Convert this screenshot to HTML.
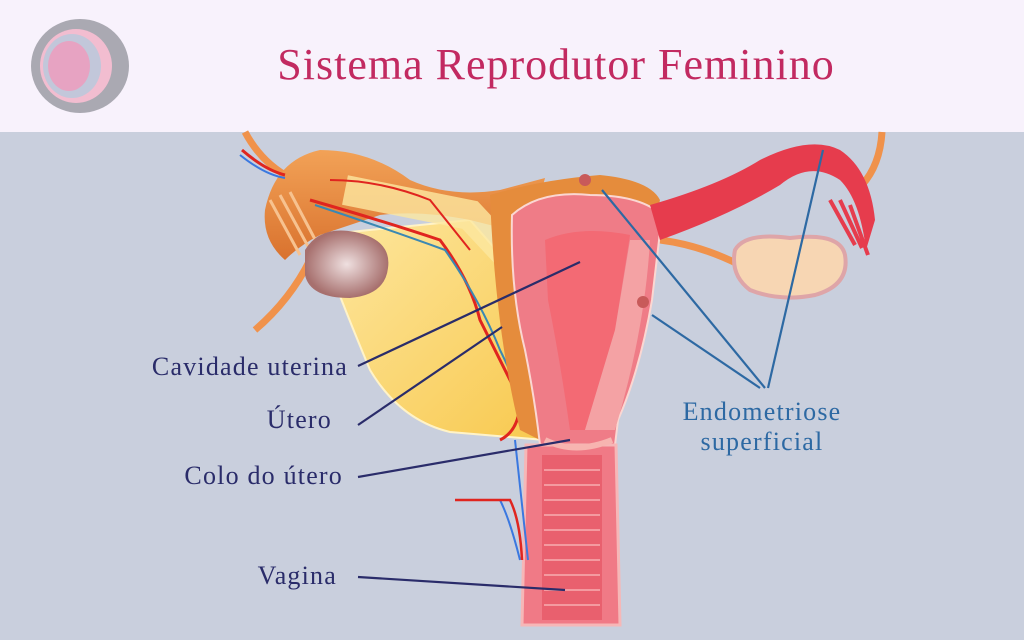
<!DOCTYPE html>
<html><head><meta charset="utf-8"><style>
html,body{margin:0;padding:0;width:1024px;height:640px;overflow:hidden;background:#c9cfdd}
</style></head><body>
<svg width="1024" height="640" viewBox="0 0 1024 640" xmlns="http://www.w3.org/2000/svg" font-family="'Liberation Serif', serif">
<defs>
<linearGradient id="yel" x1="0" y1="0" x2="1" y2="1"><stop offset="0" stop-color="#fde7a0"/><stop offset="1" stop-color="#f8c94f"/></linearGradient>
<linearGradient id="org" x1="0" y1="0" x2="0" y2="1"><stop offset="0" stop-color="#f2a257"/><stop offset="1" stop-color="#d9722e"/></linearGradient>
<radialGradient id="ov" cx="0.5" cy="0.5" r="0.5"><stop offset="0" stop-color="#efe0e0"/><stop offset="1" stop-color="#a7706e"/></radialGradient>
</defs>
<rect x="0" y="0" width="1024" height="132" fill="#f8f2fc"/>
<ellipse cx="80" cy="66" rx="49" ry="47" fill="#aaa9b2"/>
<ellipse cx="76" cy="66" rx="36" ry="37" fill="#f2bdd0"/>
<ellipse cx="72" cy="66" rx="29" ry="32" fill="#c2c7da"/>
<ellipse cx="69" cy="66" rx="21" ry="25" fill="#e7a3c2"/>
<text x="556" y="79" text-anchor="middle" font-size="44" letter-spacing="1" fill="#c22a61">Sistema Reprodutor Feminino</text>

<path d="M255 330 Q290 300 310 260" stroke="#f0924b" stroke-width="7" fill="none"/>
<path d="M245 132 Q260 160 285 175" stroke="#f0924b" stroke-width="7" fill="none"/>
<path d="M660 240 Q700 245 740 265" stroke="#f0924b" stroke-width="7" fill="none"/>
<path d="M882 132 Q880 165 862 185" stroke="#f0924b" stroke-width="7" fill="none"/>
<path d="M320 235 L470 220 L540 300 L545 440 L450 432 Q400 420 370 370 Q345 310 330 270 Z" fill="url(#yel)" stroke="#fff3c8" stroke-width="2"/>
<path d="M265 210 Q275 160 320 150 Q370 150 410 180 Q450 198 500 190 L545 178 L530 235 L470 220 Q420 210 380 215 L320 235 Q300 245 285 260 Q262 240 265 210 Z" fill="url(#org)"/>
<path d="M270 200 L300 255 M280 195 L310 250 M290 192 L318 245" stroke="#f7c28f" stroke-width="3"/>
<path d="M345 190 L470 215 L540 290" stroke="#fde7a0" stroke-width="30" fill="none" opacity="0.8"/>
<path d="M310 200 Q380 220 440 240 Q470 280 480 320 Q500 360 520 400 Q520 430 500 440" stroke="#e0251f" stroke-width="3" fill="none"/>
<path d="M315 205 Q390 230 445 250 Q480 300 500 350 Q520 390 530 430" stroke="#3b88b3" stroke-width="2" fill="none"/>
<path d="M330 180 Q380 180 430 200 L470 250" stroke="#e0251f" stroke-width="2" fill="none"/>
<path d="M490 195 Q540 180 600 175 Q650 180 660 200 L650 240 L540 250 L540 440 L520 430 Q495 330 490 195 Z" fill="#e58c3c"/>
<path d="M512 215 Q540 190 590 195 Q640 195 662 215 L652 300 Q640 370 618 420 L615 445 L540 445 Q535 400 525 350 Q510 290 512 215 Z" fill="#ef7c87" stroke="#fbd7d2" stroke-width="2"/>
<path d="M545 240 Q580 225 630 235 L615 330 Q600 380 585 430 L570 430 Q560 360 548 300 Z" fill="#f36a74"/>
<path d="M585 430 Q600 380 615 330 L630 240 L650 240 Q645 330 615 430 Z" fill="#f4a2a4"/>
<path d="M650 205 Q720 185 760 160 Q810 135 840 150 Q870 170 875 220 L866 250 Q860 200 840 180 Q810 160 780 185 Q730 215 660 240 Z" fill="#e63c4d"/>
<path d="M830 200 L855 245 M840 200 L862 248 M850 205 L868 255" stroke="#e63c4d" stroke-width="4"/>
<path d="M735 250 Q745 232 790 238 Q840 232 845 255 Q850 285 815 295 Q780 302 750 290 Q730 275 735 250 Z" fill="#f7d6b3" stroke="#dea5a8" stroke-width="4"/>
<path d="M305 250 Q320 225 355 232 Q392 240 388 268 Q385 295 350 298 Q310 298 305 275 Z" fill="url(#ov)"/>
<path d="M526 445 L616 445 L620 625 L522 625 Z" fill="#f07a86" stroke="#f6b7b7" stroke-width="3"/>
<rect x="542" y="455" width="60" height="165" fill="#e9606e"/>
<g stroke="#f49aa0" stroke-width="2">
<line x1="544" y1="470" x2="600" y2="470"/><line x1="544" y1="485" x2="600" y2="485"/><line x1="544" y1="500" x2="600" y2="500"/><line x1="544" y1="515" x2="600" y2="515"/><line x1="544" y1="530" x2="600" y2="530"/><line x1="544" y1="545" x2="600" y2="545"/><line x1="544" y1="560" x2="600" y2="560"/><line x1="544" y1="575" x2="600" y2="575"/><line x1="544" y1="590" x2="600" y2="590"/><line x1="544" y1="605" x2="600" y2="605"/>
</g>
<path d="M545 440 Q575 455 612 440" stroke="#f7b4b0" stroke-width="6" fill="none"/>
<path d="M515 440 L528 560 M500 500 Q510 520 520 560" stroke="#3a78e0" stroke-width="2" fill="none"/>
<path d="M455 500 Q490 500 510 500 Q520 520 522 560" stroke="#e0251f" stroke-width="2.5" fill="none"/>
<path d="M242 150 Q265 170 285 175" stroke="#e0251f" stroke-width="3" fill="none"/>
<path d="M240 155 Q265 175 285 178" stroke="#3a78e0" stroke-width="2" fill="none"/>
<circle cx="585" cy="180" r="6" fill="#c85a5a"/>
<circle cx="643" cy="302" r="6" fill="#c85a5a"/>

<g stroke="#2a2c6a" stroke-width="2.2">
<line x1="358" y1="366" x2="580" y2="262"/>
<line x1="358" y1="425" x2="502" y2="327"/>
<line x1="358" y1="477" x2="570" y2="440"/>
<line x1="358" y1="577" x2="565" y2="590"/>
</g>
<g stroke="#2d69a3" stroke-width="2.2">
<line x1="602" y1="190" x2="765" y2="388"/>
<line x1="652" y1="315" x2="760" y2="388"/>
<line x1="823" y1="150" x2="768" y2="388"/>
</g>
<g font-size="26" letter-spacing="1.2" fill="#2a2c6a" text-anchor="end">
<text x="348" y="375">Cavidade uterina</text>
<text x="332" y="428">Útero</text>
<text x="343" y="484">Colo do útero</text>
<text x="337" y="584">Vagina</text>
</g>
<g font-size="26" letter-spacing="1.2" fill="#2d69a3" text-anchor="middle">
<text x="762" y="420">Endometriose</text>
<text x="762" y="450">superficial</text>
</g>
</svg>
</body></html>
